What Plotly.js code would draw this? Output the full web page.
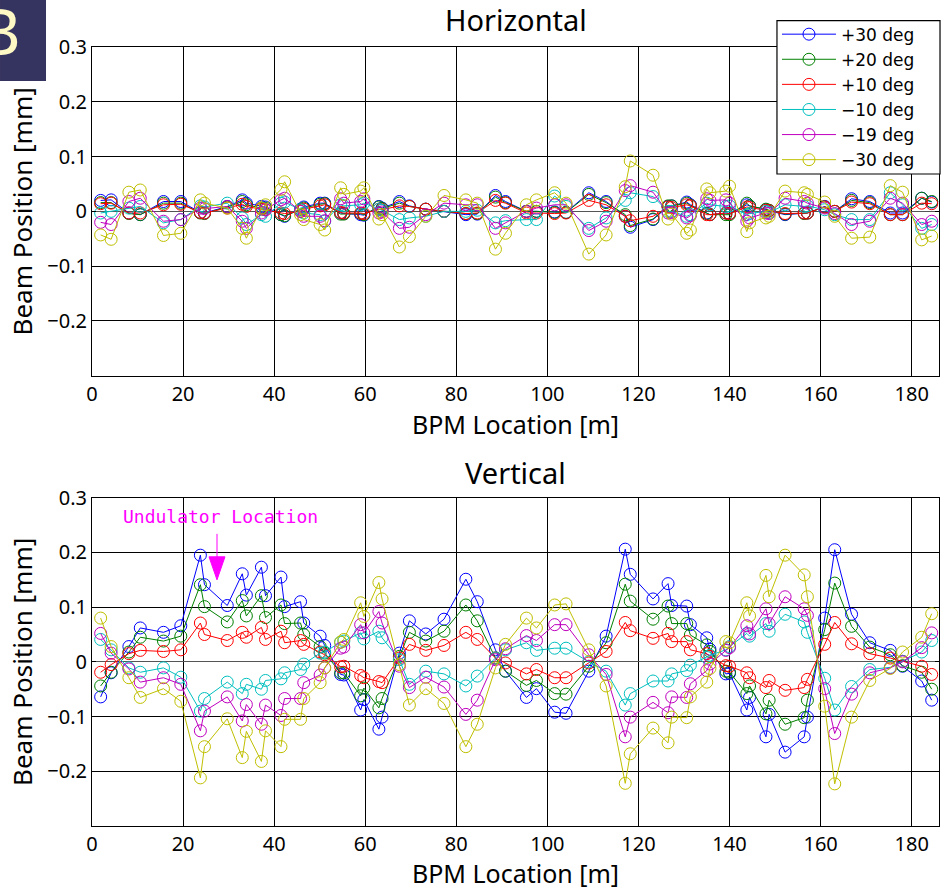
<!DOCTYPE html>
<html>
<head>
<meta charset="utf-8">
<script src="https://cdn.plot.ly/plotly-3.0.1.min.js"></script>
<style>html,body{margin:0;padding:0;background:#fff;}#chart{width:944px;height:890px;}</style>
</head>
<body>
<div id="chart"></div>
<script>
// BPM locations [m]
const bpmLocation = [1.9, 4.2, 8.1, 10.6, 15.7, 19.5, 23.8, 24.7, 29.7, 33.0, 33.9, 37.2, 38.1, 41.5, 42.3, 45.8, 46.5, 50.1, 51.1, 54.6, 55.3, 59.0, 59.7, 63.0, 63.7, 67.5, 69.7, 73.3, 77.3, 82.1, 84.6, 88.6, 90.8, 95.4, 97.6, 101.6, 104.1, 109.1, 112.9, 117.1, 118.2, 123.2, 126.5, 127.3, 130.6, 131.4, 135.0, 135.7, 139.2, 140.0, 143.8, 144.4, 148.0, 148.7, 152.2, 156.4, 157.1, 160.9, 163.1, 166.8, 170.8, 175.3, 178.0, 182.2, 184.4];

const seriesNames = ['+30 deg', '+20 deg', '+10 deg', '\u221210 deg', '\u221219 deg', '\u221230 deg'];
const seriesColors = ['#0000ff', '#008000', '#ff0000', '#00bfbf', '#bf00bf', '#bfbf00'];

// Horizontal beam position [mm]
const horP30 = [0.020, 0.021, -0.003, -0.006, 0.018, 0.018, -0.002, -0.003, 0.009, 0.021, 0.015, 0.009, 0.008, -0.006, -0.009, 0.004, 0.008, 0.015, 0.015, -0.003, -0.004, -0.006, -0.007, 0.009, 0.006, 0.018, 0.010, 0.004, 0.000, -0.006, -0.005, 0.029, 0.018, 0.000, 0.000, -0.001, -0.002, 0.034, 0.018, -0.009, -0.029, -0.015, 0.009, 0.010, 0.017, 0.012, -0.003, -0.006, -0.003, -0.004, 0.012, 0.010, 0.003, 0.001, -0.006, -0.003, -0.003, 0.009, 0.000, 0.023, 0.018, -0.003, -0.003, 0.024, 0.017];
const horP20 = [0.016, 0.016, -0.004, -0.006, 0.015, 0.015, -0.003, -0.004, 0.008, 0.018, 0.012, 0.006, 0.006, -0.006, -0.008, 0.003, 0.006, 0.013, 0.014, -0.005, -0.005, -0.004, -0.006, 0.008, 0.005, 0.015, 0.009, 0.004, 0.000, -0.004, -0.004, 0.026, 0.016, 0.000, 0.000, -0.002, -0.002, 0.031, 0.016, -0.006, -0.026, -0.014, 0.010, 0.010, 0.015, 0.011, -0.004, -0.006, -0.006, -0.006, 0.015, 0.010, 0.004, 0.002, -0.005, -0.004, -0.003, 0.008, 0.000, 0.020, 0.016, -0.006, -0.006, 0.024, 0.018];
const horP10 = [0.014, 0.015, -0.003, -0.003, 0.012, 0.013, -0.002, -0.003, 0.006, 0.013, 0.009, 0.004, 0.003, -0.003, -0.004, 0.000, 0.004, 0.010, 0.012, -0.002, -0.003, -0.003, -0.004, 0.004, 0.003, 0.010, 0.009, 0.004, 0.000, -0.004, -0.003, 0.020, 0.015, -0.003, -0.003, -0.004, -0.003, 0.020, 0.012, -0.009, -0.017, -0.009, 0.008, 0.007, 0.012, 0.010, -0.006, -0.006, -0.003, -0.004, 0.008, 0.007, 0.002, 0.001, -0.004, -0.003, -0.003, 0.008, 0.000, 0.017, 0.014, -0.006, -0.006, 0.015, 0.014];
const horM10 = [-0.003, 0.000, 0.006, 0.009, -0.021, -0.015, 0.010, 0.008, 0.015, -0.012, -0.024, -0.006, -0.009, 0.015, 0.017, 0.003, -0.003, -0.006, -0.018, 0.012, 0.010, 0.012, 0.015, 0.004, 0.002, -0.015, -0.012, -0.009, 0.000, 0.000, 0.002, -0.021, -0.017, -0.015, -0.015, 0.028, 0.009, -0.031, -0.012, 0.020, 0.034, 0.027, 0.000, 0.000, -0.009, -0.006, 0.015, 0.012, 0.009, 0.010, -0.006, -0.004, 0.000, -0.002, 0.012, 0.009, 0.010, 0.003, -0.006, -0.015, -0.015, 0.034, 0.012, -0.031, -0.024];
const horM19 = [-0.020, -0.024, 0.018, 0.024, -0.018, -0.015, 0.006, 0.005, 0.009, -0.018, -0.031, -0.003, 0.003, 0.021, 0.024, 0.000, -0.009, -0.009, -0.017, 0.023, 0.015, 0.018, 0.023, -0.003, -0.001, -0.031, -0.029, -0.006, 0.015, 0.012, 0.012, -0.031, -0.021, 0.000, 0.006, 0.012, 0.012, -0.035, -0.018, 0.038, 0.047, 0.035, -0.003, -0.002, -0.012, -0.008, 0.023, 0.020, 0.021, 0.015, -0.018, -0.012, -0.003, -0.004, 0.024, 0.018, 0.015, 0.006, -0.004, -0.024, -0.018, 0.024, 0.015, -0.024, -0.018];
const horM30 = [-0.043, -0.051, 0.035, 0.039, -0.044, -0.040, 0.021, 0.015, 0.006, -0.031, -0.049, 0.006, 0.012, 0.040, 0.054, -0.006, -0.015, -0.024, -0.034, 0.043, 0.031, 0.037, 0.043, -0.014, -0.006, -0.065, -0.046, -0.009, 0.029, 0.021, 0.015, -0.069, -0.040, 0.012, 0.021, 0.034, 0.015, -0.078, -0.043, 0.045, 0.092, 0.066, -0.014, -0.005, -0.040, -0.034, 0.041, 0.034, 0.037, 0.046, -0.037, -0.021, -0.012, -0.009, 0.037, 0.034, 0.031, 0.017, -0.009, -0.049, -0.047, 0.047, 0.035, -0.052, -0.045];

// Vertical beam position [mm]
const verP30 = [-0.064, -0.020, 0.028, 0.062, 0.054, 0.066, 0.195, 0.141, 0.103, 0.161, 0.122, 0.173, 0.121, 0.155, 0.101, 0.110, 0.071, 0.047, 0.030, -0.023, -0.024, -0.088, -0.069, -0.123, -0.101, 0.016, 0.075, 0.051, 0.078, 0.151, 0.110, 0.022, -0.017, -0.065, -0.049, -0.092, -0.094, -0.017, 0.047, 0.206, 0.160, 0.115, 0.143, 0.103, 0.102, 0.068, 0.044, 0.023, -0.022, -0.021, -0.088, -0.065, -0.137, -0.096, -0.165, -0.137, -0.101, 0.080, 0.205, 0.087, 0.035, 0.021, -0.008, -0.035, -0.070];
const verP20 = [-0.044, -0.019, 0.018, 0.045, 0.038, 0.047, 0.141, 0.101, 0.073, 0.112, 0.084, 0.121, 0.081, 0.104, 0.070, 0.071, 0.050, 0.028, 0.016, -0.020, -0.020, -0.062, -0.048, -0.084, -0.067, 0.010, 0.054, 0.038, 0.056, 0.104, 0.075, 0.007, -0.017, -0.043, -0.034, -0.058, -0.059, -0.008, 0.035, 0.142, 0.111, 0.078, 0.102, 0.070, 0.070, 0.049, 0.031, 0.019, -0.017, -0.019, -0.058, -0.044, -0.095, -0.070, -0.114, -0.102, -0.070, 0.059, 0.144, 0.065, 0.027, 0.013, -0.007, -0.019, -0.050];
const verP10 = [-0.019, -0.005, 0.015, 0.021, 0.019, 0.022, 0.071, 0.050, 0.039, 0.054, 0.045, 0.063, 0.041, 0.056, 0.035, 0.039, 0.032, 0.018, 0.013, -0.009, -0.008, -0.025, -0.029, -0.036, -0.038, 0.007, 0.032, 0.021, 0.030, 0.054, 0.041, 0.007, -0.002, -0.022, -0.014, -0.029, -0.029, -0.002, 0.019, 0.072, 0.057, 0.043, 0.052, 0.037, 0.037, 0.022, 0.015, 0.010, -0.007, -0.008, -0.020, -0.029, -0.047, -0.034, -0.052, -0.047, -0.032, 0.032, 0.072, 0.033, 0.015, 0.007, 0.001, -0.008, -0.023];
const verM10 = [0.041, 0.022, -0.011, -0.019, -0.011, -0.028, -0.090, -0.067, -0.037, -0.058, -0.041, -0.050, -0.034, -0.031, -0.020, -0.014, -0.004, 0.016, 0.018, 0.036, 0.038, 0.053, 0.042, 0.056, 0.044, 0.004, -0.041, -0.017, -0.022, -0.044, -0.026, 0.007, 0.022, 0.035, 0.021, 0.025, 0.025, 0.000, -0.017, -0.079, -0.058, -0.035, -0.035, -0.022, -0.016, -0.006, 0.008, 0.012, 0.022, 0.028, 0.052, 0.047, 0.070, 0.056, 0.087, 0.073, 0.054, -0.030, -0.088, -0.045, -0.014, -0.010, 0.001, 0.018, 0.039];
const verM19 = [0.052, 0.016, -0.013, -0.037, -0.029, -0.041, -0.126, -0.090, -0.064, -0.108, -0.078, -0.114, -0.079, -0.098, -0.067, -0.067, -0.038, -0.024, -0.011, 0.025, 0.027, 0.068, 0.053, 0.092, 0.071, -0.008, -0.047, -0.028, -0.046, -0.096, -0.070, 0.004, 0.024, 0.048, 0.039, 0.068, 0.068, 0.013, -0.023, -0.137, -0.101, -0.074, -0.093, -0.064, -0.065, -0.040, -0.016, -0.004, 0.021, 0.026, 0.066, 0.051, 0.097, 0.070, 0.119, 0.097, 0.085, -0.049, -0.131, -0.059, -0.020, -0.011, 0.000, 0.026, 0.053];
const verM30 = [0.080, 0.028, -0.029, -0.065, -0.049, -0.072, -0.212, -0.155, -0.104, -0.175, -0.127, -0.182, -0.126, -0.155, -0.105, -0.105, -0.067, -0.038, -0.011, 0.036, 0.041, 0.108, 0.083, 0.145, 0.115, -0.005, -0.079, -0.049, -0.076, -0.155, -0.114, -0.011, 0.032, 0.080, 0.062, 0.104, 0.106, 0.022, -0.044, -0.222, -0.168, -0.121, -0.148, -0.101, -0.102, -0.064, -0.037, -0.012, 0.037, 0.035, 0.108, 0.084, 0.158, 0.119, 0.195, 0.159, 0.119, -0.081, -0.223, -0.101, -0.034, -0.012, 0.018, 0.045, 0.088];

const xTickVals = [0, 20, 40, 60, 80, 100, 120, 140, 160, 180];
const yTickVals = [-0.2, -0.1, 0, 0.1, 0.2, 0.3];
const yTickText = ['\u22120.2', '\u22120.1', '0', '0.1', '0.2', '0.3'];

const horSeries = [horP30, horP20, horP10, horM10, horM19, horM30];
const verSeries = [verP30, verP20, verP10, verM10, verM19, verM30];

const traces = [];
horSeries.forEach((ys, i) => {
  traces.push({
    x: bpmLocation, y: ys, xaxis: 'x', yaxis: 'y', type: 'scatter', mode: 'lines+markers',
    name: seriesNames[i], legendgroup: 'g' + i, showlegend: true,
    line: {color: seriesColors[i], width: 1},
    marker: {symbol: 'circle-open', size: 12, color: seriesColors[i], line: {width: 1, color: seriesColors[i]}}
  });
});
verSeries.forEach((ys, i) => {
  traces.push({
    x: bpmLocation, y: ys, xaxis: 'x2', yaxis: 'y2', type: 'scatter', mode: 'lines+markers',
    name: seriesNames[i], legendgroup: 'g' + i, showlegend: false,
    line: {color: seriesColors[i], width: 1},
    marker: {symbol: 'circle-open', size: 12, color: seriesColors[i], line: {width: 1, color: seriesColors[i]}}
  });
});

const FONT = '"Noto Sans", "DejaVu Sans", sans-serif';
function xAx(anchor) {
  return {
    anchor: anchor, domain: [0, 1], range: [0, 186], tickvals: xTickVals,
    showgrid: true, gridcolor: '#000', gridwidth: 1, zeroline: false,
    showline: true, linecolor: '#000', linewidth: 1, mirror: 'ticks',
    ticks: 'inside', ticklen: 4, tickcolor: '#000',
    tickfont: {family: FONT, size: 20, color: '#000'},
    title: {text: 'BPM Location [m]', font: {family: FONT, size: 25, color: '#000'}, standoff: 9}
  };
}
function yAx(anchor, dom) {
  return {
    anchor: anchor, domain: dom, range: [-0.3, 0.3], tickvals: yTickVals, ticktext: yTickText,
    showgrid: true, gridcolor: '#000', gridwidth: 1, zeroline: true, zerolinecolor: '#555', zerolinewidth: 1,
    showline: true, linecolor: '#000', linewidth: 1, mirror: 'ticks',
    ticks: 'inside', ticklen: 4, tickcolor: '#000',
    tickfont: {family: FONT, size: 20, color: '#000'},
    title: {text: 'Beam Position [mm]', font: {family: FONT, size: 26, color: '#000'}, standoff: 7}
  };
}

const layout = {
  width: 944, height: 890,
  margin: {l: 92, r: 5, t: 47, b: 64},
  paper_bgcolor: '#fff', plot_bgcolor: '#fff',
  font: {family: FONT, color: '#000'},
  showlegend: true,
  legend: {
    x: 0.8087, xanchor: 'left', y: 1.039, yanchor: 'top',
    bgcolor: 'rgba(0,0,0,0)', borderwidth: 0,
    font: {family: '"DejaVu Sans", sans-serif', size: 17, color: '#000'},
    itemwidth: 54, tracegroupgap: 0
  },
  xaxis: xAx('y'),
  yaxis: yAx('x', [0.578, 1]),
  xaxis2: xAx('y2'),
  yaxis2: yAx('x2', [0, 0.4214]),
  shapes: [
    {type: 'rect', xref: 'paper', yref: 'paper', x0: -0.1086, x1: -0.0543, y0: 0.9564, y1: 1.0603,
     fillcolor: '#35335f', line: {width: 0}, layer: 'above'},
    // legend frame
    {type: 'rect', xref: 'paper', yref: 'paper', x0: 0.8087, x1: 1.0012, y0: 0.8370, y1: 1.0338,
     fillcolor: '#fff', line: {color: '#000', width: 1.2}, layer: 'above'},
    {type: 'line', xref: 'x2', yref: 'y2', x0: 27.45, x1: 27.45, y0: 0.234, y1: 0.19,
     line: {color: '#ff00ff', width: 1}},
    {type: 'path', xref: 'x2', yref: 'y2', path: 'M 25.7,0.192 L 29.2,0.192 L 27.45,0.150 Z',
     fillcolor: '#ff00ff', line: {color: '#ff00ff', width: 1}}
  ],
  annotations: [
    {text: 'Horizontal', xref: 'paper', yref: 'paper', x: 0.5, y: 1.0347, xanchor: 'center', yanchor: 'middle',
     showarrow: false, font: {family: FONT, size: 29, color: '#000'}},
    {text: 'Vertical', xref: 'paper', yref: 'paper', x: 0.5, y: 0.4544, xanchor: 'center', yanchor: 'middle',
     showarrow: false, font: {family: FONT, size: 29, color: '#000'}},
    {text: 'Undulator Location', xref: 'x2', yref: 'y2', x: 28.3, y: 0.265, xanchor: 'center', yanchor: 'middle',
     showarrow: false, font: {family: '"DejaVu Sans Mono", monospace', size: 18, color: '#ff00ff'}},
    {text: 'B', xref: 'paper', yref: 'paper', x: -0.082, y: 1.0218, xanchor: 'right', yanchor: 'middle',
     showarrow: false, font: {family: FONT, size: 64, color: '#fdf8c4'}}
  ]
};

Plotly.newPlot('chart', traces, layout, {displayModeBar: false, staticPlot: true});
</script>
</body>
</html>
